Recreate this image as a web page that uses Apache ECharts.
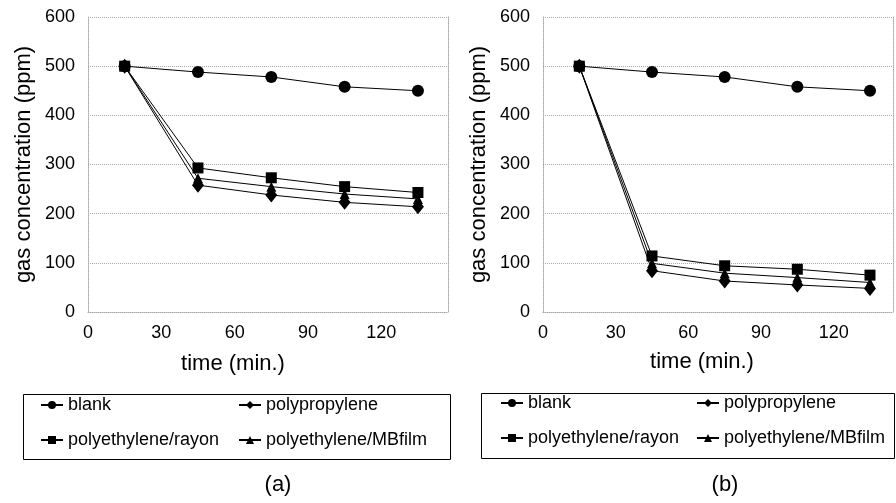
<!DOCTYPE html>
<html>
<head>
<meta charset="utf-8">
<script src="https://cdn.jsdelivr.net/npm/echarts@6/dist/echarts.min.js"></script>
<style>
  html, body { margin: 0; padding: 0; background: #fff; }
  #chart { width: 896px; height: 503px; }
</style>
</head>
<body>
<div id="chart"></div>
<script>
// sampling times (min.)
const times = [15, 45, 75, 105, 135]
const seriesNames = ['blank', 'polypropylene', 'polyethylene/rayon', 'polyethylene/MBfilm']

// panel (a)
const blankA = [500, 488, 478, 458, 450]
const ppA = [500, 258, 238, 223, 214]
const rayonA = [500, 293, 273, 255, 243]
const mbfilmA = [500, 272, 255, 240, 230]

// panel (b)
const blankB = [500, 488, 478, 458, 450]
const ppB = [500, 84, 63, 55, 48]
const rayonB = [500, 114, 94, 87, 75]
const mbfilmB = [500, 99, 79, 70, 60]

const yTicks = [0, 100, 200, 300, 400, 500, 600]
const xTicks = [0, 30, 60, 90, 120]

const font = 'Liberation Sans, Arial, sans-serif'
const gridColor = '#a8a8a8'

const markers = {
  'blank': { symbol: 'circle', size: 12 },
  'polypropylene': { symbol: 'diamond', size: [12, 15] },
  'polyethylene/rayon': { symbol: 'rect', size: 11 },
  'polyethylene/MBfilm': { symbol: 'triangle', size: 10 }
}

function pairs(values) {
  return times.map((t, i) => [t, values[i]])
}

function makeSeries(name, values, idx) {
  return {
    name: name,
    type: 'line',
    xAxisIndex: idx,
    yAxisIndex: idx * 2,
    data: pairs(values),
    symbol: markers[name].symbol,
    symbolSize: markers[name].size,
    itemStyle: { color: '#000' },
    lineStyle: { color: '#000', width: 1 },
    animation: false
  }
}

function xAxis(idx, max) {
  return {
    type: 'value',
    gridIndex: idx,
    min: 0,
    max: max,
    interval: 30,
    axisLine: { show: true, lineStyle: { color: gridColor, type: 'dotted' } },
    axisTick: { show: false },
    splitLine: { show: false },
    axisLabel: {
      color: '#000',
      fontFamily: font,
      fontSize: 18,
      margin: 12,
      formatter: v => (xTicks.indexOf(v) >= 0 ? String(v) : '')
    }
  }
}

function yAxis(idx) {
  return {
    type: 'value',
    gridIndex: idx,
    min: yTicks[0],
    max: yTicks[yTicks.length - 1],
    interval: 100,
    name: 'gas concentration (ppm)',
    nameLocation: 'middle',
    nameRotate: 90,
    nameGap: 53,
    nameTextStyle: { color: '#000', fontFamily: font, fontSize: 22 },
    axisLine: { show: true, lineStyle: { color: gridColor, type: 'dotted' } },
    axisTick: { show: false },
    splitLine: { show: true, lineStyle: { color: gridColor, type: 'dotted' } },
    axisLabel: { color: '#000', fontFamily: font, fontSize: 18, margin: 13 }
  }
}

// right-hand edge of the plot area, dotted like the other edges
function edgeAxis(idx) {
  return {
    type: 'value',
    gridIndex: idx,
    position: 'right',
    min: yTicks[0],
    max: yTicks[yTicks.length - 1],
    axisLine: { show: true, lineStyle: { color: gridColor, type: 'dotted' } },
    axisTick: { show: false },
    axisLabel: { show: false },
    splitLine: { show: false }
  }
}

function legend(names, left, top) {
  return {
    data: names,
    orient: 'vertical',
    left: left,
    top: top,
    padding: 0,
    itemWidth: 22,
    itemHeight: 10,
    itemGap: 17,
    selectedMode: false,
    textStyle: { color: '#000', fontFamily: font, fontSize: 18 }
  }
}

function label(text, x, y, size) {
  return {
    type: 'text',
    x: x,
    y: y,
    style: {
      text: text,
      fill: '#000',
      font: size + 'px ' + font,
      textAlign: 'center',
      textVerticalAlign: 'middle'
    }
  }
}

const chart = echarts.init(document.getElementById('chart'))
chart.setOption({
  backgroundColor: '#fff',
  animation: false,
  grid: [
    { left: 88, top: 17, width: 360, height: 295 },
    { left: 543, top: 17, width: 351, height: 295 }
  ],
  xAxis: [xAxis(0, 147.3), xAxis(1, 144.5)],
  yAxis: [yAxis(0), edgeAxis(0), yAxis(1), edgeAxis(1)],
  legend: [
    legend([seriesNames[0], seriesNames[2]], 40, 396),
    legend([seriesNames[1], seriesNames[3]], 238, 396),
    legend([seriesNames[0], seriesNames[2]], 500, 394),
    legend([seriesNames[1], seriesNames[3]], 696, 394)
  ],
  graphic: [
    { type: 'rect', shape: { x: 23.5, y: 394.5, width: 427, height: 65 }, style: { fill: 'none', stroke: '#000', lineWidth: 1 } },
    { type: 'rect', shape: { x: 481.5, y: 393.5, width: 413, height: 65 }, style: { fill: 'none', stroke: '#000', lineWidth: 1 } },
    label('time (min.)', 233, 364, 22),
    label('time (min.)', 702, 362, 22),
    label('(a)', 278, 485, 22),
    label('(b)', 725, 485, 22)
  ],
  series: [
    makeSeries('blank', blankA, 0),
    makeSeries('polyethylene/rayon', rayonA, 0),
    makeSeries('polyethylene/MBfilm', mbfilmA, 0),
    makeSeries('polypropylene', ppA, 0),
    makeSeries('blank', blankB, 1),
    makeSeries('polyethylene/rayon', rayonB, 1),
    makeSeries('polyethylene/MBfilm', mbfilmB, 1),
    makeSeries('polypropylene', ppB, 1)
  ]
})
</script>
</body>
</html>
